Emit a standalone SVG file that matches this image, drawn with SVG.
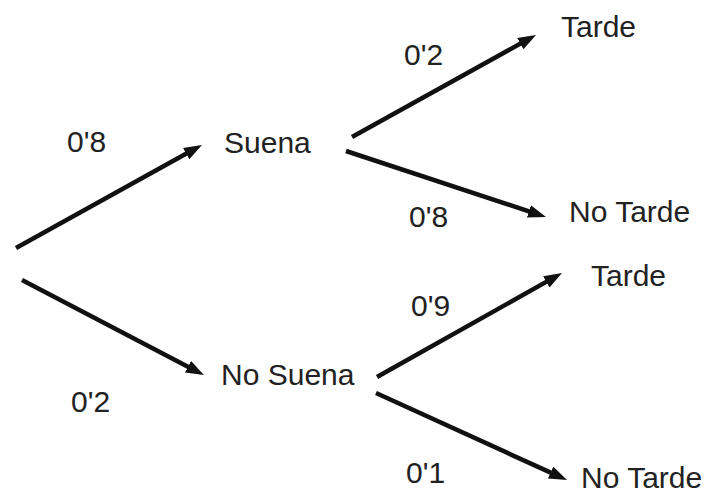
<svg xmlns="http://www.w3.org/2000/svg" width="716" height="494" viewBox="0 0 716 494">
<style>
text{font-family:"Liberation Sans",Arial,sans-serif;font-size:30px;fill:#222}
.c{stroke:#111;stroke-width:4.5;fill:none;marker-end:url(#ah)}
</style>
<defs>
<marker id="ah" markerUnits="userSpaceOnUse" markerWidth="20" markerHeight="14" refX="8" refY="6.5" orient="auto">
<path d="M0,0 L18,6.5 L0,13 z" fill="#111"/>
</marker>
</defs>
<rect width="716" height="494" fill="#fff"/>
<g id="connectors">
<path class="c" d="M16,248 L193.2,149.8"/>
<path class="c" d="M22,280 L195.1,370.4"/>
<path class="c" d="M352,137 L527.3,39.8"/>
<path class="c" d="M346,151 L536.5,213.9"/>
<path class="c" d="M377,377 L553.3,277.9"/>
<path class="c" d="M376,393 L557.9,475.9"/>
</g>
<g id="labels">
<text x="67" y="152">0'8</text>
<text x="71" y="412">0'2</text>
<text x="404" y="65">0'2</text>
<text x="409" y="227">0'8</text>
<text x="411" y="316">0'9</text>
<text x="406" y="483">0'1</text>
</g>
<g id="suena"><text x="224" y="153">Suena</text></g>
<g id="nosuena"><text x="221" y="385">No Suena</text></g>
<g id="tarde1"><text x="561" y="37">Tarde</text></g>
<g id="notarde1"><text x="569" y="222">No Tarde</text></g>
<g id="tarde2"><text x="591" y="286">Tarde</text></g>
<g id="notarde2"><text x="581" y="488">No Tarde</text></g>
</svg>
